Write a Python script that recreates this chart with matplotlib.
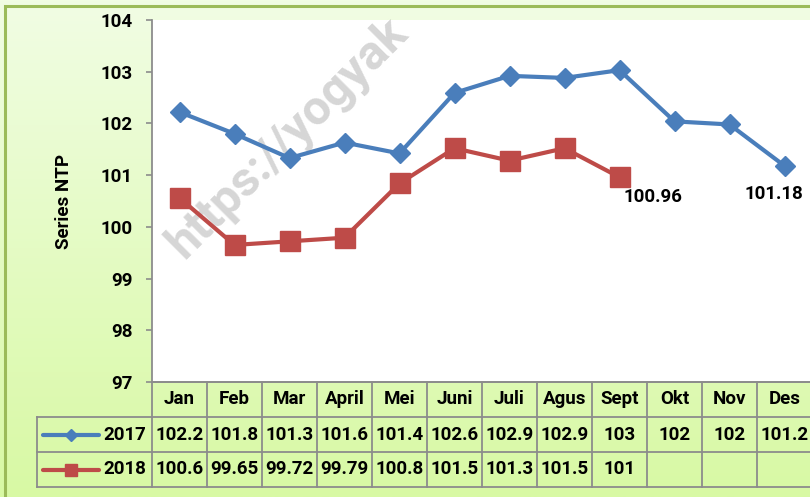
import matplotlib
matplotlib.use("Agg")
import matplotlib.pyplot as plt
import numpy as np
from matplotlib.patches import Rectangle

months = ["Jan", "Feb", "Mar", "April", "Mei", "Juni", "Juli", "Agus", "Sept", "Okt", "Nov", "Des"]
ntp_2017 = [102.22, 101.80, 101.33, 101.63, 101.42, 102.59, 102.92, 102.88, 103.03, 102.04, 101.98, 101.18]
ntp_2018 = [100.56, 99.65, 99.72, 99.79, 100.84, 101.52, 101.28, 101.52, 100.96]
series_names = ["2017", "2018"]
y_ticks = [97, 98, 99, 100, 101, 102, 103, 104]

BLUE = "#4a7ebb"
RED = "#be4b48"
GRID = "#8c8c8c"
FS = 13.5

plt.rcParams["font.family"] = ["Roboto", "DejaVu Sans"]
plt.rcParams["font.weight"] = "bold"


def cell_text(v):
    # excel "general" style rounding as shown in the data table
    s = f"{v:.1f}" if v >= 100 else f"{v:.2f}"
    return s[:-2] if s.endswith(".0") else s


W, H = 810, 497
fig = plt.figure(figsize=(W / 100, H / 100), dpi=100)

# gradient background with green frame
bg = fig.add_axes([0, 0, 1, 1], zorder=-10)
c_top = np.array([0xf1, 0xfd, 0xe4]) / 255
c_bot = np.array([0xd8, 0xf9, 0xa4]) / 255
t = np.linspace(0, 1, 256)[:, None]
grad = c_top + (c_bot - c_top) * t
bg.imshow(grad[:, None, :], aspect="auto", extent=[0, 1, 0, 1])
bg.add_patch(Rectangle((5 / W, -0.1), 1.2, 1.1 - 6 / H, fill=False,
                       edgecolor="#9bbb59", lw=2.2))
bg.set_xlim(0, 1)
bg.set_ylim(0, 1)
bg.axis("off")

# plot area
ax_left, ax_top, ax_w, ax_h = 152, 20, 660, 362
ax = fig.add_axes([ax_left / W, 1 - (ax_top + ax_h) / H, ax_w / W, ax_h / H])
ax.set_facecolor("white")

ax.plot(range(len(ntp_2017)), ntp_2017, color=BLUE, lw=3, marker="D", ms=10,
        zorder=3, clip_on=False)
ax.plot(range(len(ntp_2018)), ntp_2018, color=RED, lw=3, marker="s", ms=14,
        zorder=3, clip_on=False)

ax.annotate(f"{ntp_2018[-1]:.2f}", (len(ntp_2018) - 1, ntp_2018[-1]),
            xytext=(24, -14), textcoords="offset points", ha="center", va="center",
            fontsize=FS, fontweight="bold")
ax.annotate(f"{ntp_2017[-1]:.2f}", (len(ntp_2017) - 1, ntp_2017[-1]),
            xytext=(-8, -20), textcoords="offset points", ha="center", va="center",
            fontsize=FS, fontweight="bold")

ax.set_xlim(-0.5, 11.5)
ax.set_ylim(97, 104)
ax.set_yticks(y_ticks)
ax.set_yticklabels([str(v) for v in y_ticks], fontsize=FS, fontweight="bold")
ax.tick_params(axis="y", direction="out", length=4, width=1.2, color=GRID, pad=10)
ax.set_xticks([])
for side in ["top", "right"]:
    ax.spines[side].set_visible(False)
for side in ["left", "bottom"]:
    ax.spines[side].set_color(GRID)
    ax.spines[side].set_linewidth(1.3)
ax.set_ylabel("Series NTP", fontsize=FS, fontweight="bold", labelpad=20)

# watermark
ax.text(288 / W, 1 - 138 / H, "https://yogyak", transform=fig.transFigure,
        rotation=45, ha="center", va="center", fontsize=35, fontweight="bold",
        color=(0.6, 0.6, 0.6), alpha=0.4, zorder=2, clip_on=False)

# data table below the axis
trans = ax.get_xaxis_transform()
row_px = [382, 417, 452, 487]
row_y = [(ax_top + ax_h - p) / ax_h for p in row_px]
col_w = ax_w / len(months)
table_left = -0.5 - (ax_left - 37) / col_w
n = len(months)

line_kw = dict(color=GRID, lw=1.3, transform=trans, clip_on=False)
ax.plot([-0.5, n - 0.5], [row_y[0]] * 2, **line_kw)
for y in row_y[1:]:
    ax.plot([table_left, n - 0.5], [y, y], **line_kw)
for k in range(n + 1):
    ax.plot([k - 0.5, k - 0.5], [row_y[0], row_y[-1]], **line_kw)
ax.plot([table_left, table_left], [row_y[1], row_y[-1]], **line_kw)

row_mid = [(row_y[i] + row_y[i + 1]) / 2 for i in range(3)]
for i, m in enumerate(months):
    ax.text(i, row_mid[0], m, transform=trans, ha="center", va="center",
            fontsize=FS, fontweight="bold", clip_on=False)

for r, (name, vals, col, mk, ms) in enumerate(zip(
        series_names, [ntp_2017, ntp_2018], [BLUE, RED], ["D", "s"], [6, 8])):
    y = row_mid[r + 1]
    for i, v in enumerate(vals):
        ax.text(i, y, cell_text(v), transform=trans, ha="center", va="center",
                fontsize=FS, fontweight="bold", clip_on=False)
    x0 = table_left + 6 / col_w
    x1 = table_left + 62 / col_w
    ax.plot([x0, x1], [y, y], color=col, lw=3, transform=trans, clip_on=False,
            solid_capstyle="round")
    ax.plot([(x0 + x1) / 2], [y], color=col, marker=mk, ms=ms, transform=trans,
            clip_on=False)
    ax.text(-0.5 - 6 / col_w, y, name, transform=trans, ha="right", va="center",
            fontsize=FS, fontweight="bold", clip_on=False)

ax.set_xlim(-0.5, 11.5)
ax.set_ylim(97, 104)

fig.savefig("out.png", dpi=100)
